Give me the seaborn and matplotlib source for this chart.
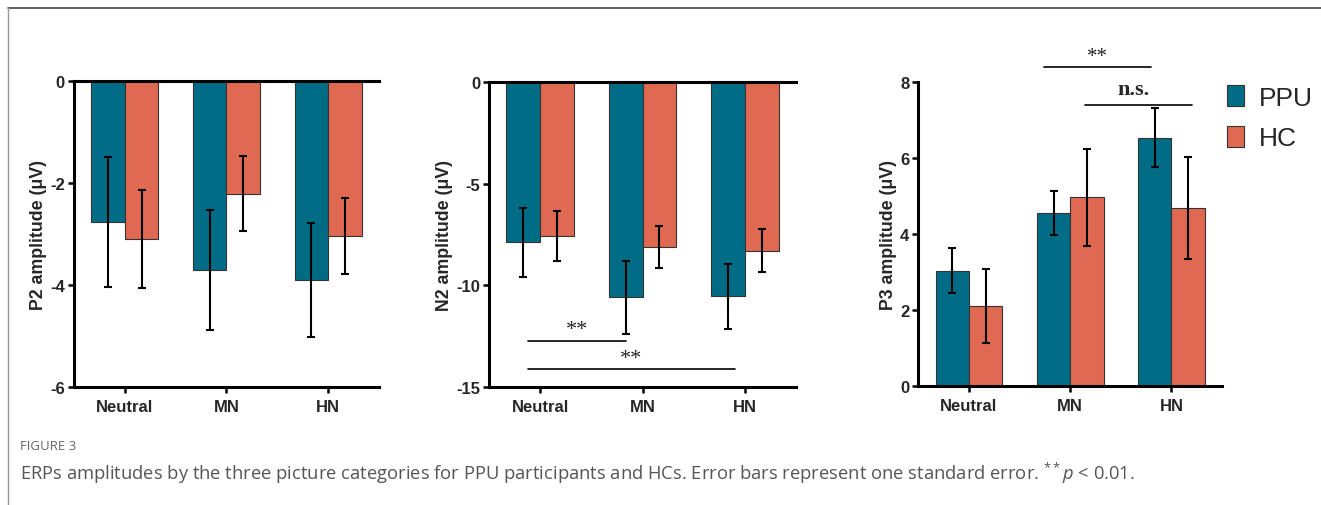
import matplotlib
matplotlib.use("Agg")
import matplotlib.pyplot as plt
from matplotlib.lines import Line2D
import seaborn as sns
import pandas as pd

# data (mean, standard error)
categories = ["Neutral", "MN", "HN"]
groups = ["PPU", "HC"]

p2_ppu = [-2.76, -3.71, -3.90]
p2_hc = [-3.10, -2.21, -3.04]
p2_ppu_se = [1.27, 1.18, 1.12]
p2_hc_se = [0.96, 0.74, 0.75]

n2_ppu = [-7.89, -10.60, -10.55]
n2_hc = [-7.57, -8.13, -8.30]
n2_ppu_se = [1.70, 1.81, 1.61]
n2_hc_se = [1.22, 1.03, 1.07]

p3_ppu = [3.03, 4.56, 6.53]
p3_hc = [2.10, 4.96, 4.68]
p3_ppu_se = [0.59, 0.58, 0.77]
p3_hc_se = [0.97, 1.27, 1.33]

# significance brackets: (x0, x1, y, label)
n2_sig = [(-0.12, 0.84, -12.73, "**"), (-0.12, 1.90, -14.13, "**")]
p3_sig = [(0.74, 1.80, 8.38, "**"), (1.15, 2.20, 7.39, "n.s.")]

colors = {"PPU": "#016C86", "HC": "#E06A51"}

sns.set_theme(style="ticks")
plt.rcParams.update({
    "font.family": ["Liberation Sans", "DejaVu Sans"],
    "font.weight": "bold",
    "axes.labelweight": "bold",
    "axes.unicode_minus": False,
    "mathtext.fontset": "custom",
    "mathtext.rm": "Open Sans:normal",
    "mathtext.it": "Open Sans:italic:normal",
})


def long_table(ppu, hc, ppu_se, hc_se):
    rows = []
    for g, vals, ses in [("PPU", ppu, ppu_se), ("HC", hc, hc_se)]:
        for c, v, s in zip(categories, vals, ses):
            rows.append({"category": c, "group": g, "value": v, "se": s})
    return pd.DataFrame(rows)


def draw_panel(ax, df, ylim, yticks, ylabel, top_spine):
    sns.barplot(data=df, x="category", y="value", hue="group",
                hue_order=groups, order=categories, palette=colors,
                saturation=1, errorbar=None, width=0.66,
                edgecolor="#333333", linewidth=0.8, legend=False, ax=ax)
    for cont, g in zip(ax.containers, groups):
        sub = df[df.group == g].set_index("category").loc[categories]
        xs = [p.get_x() + p.get_width() / 2 for p in cont.patches]
        ax.errorbar(xs, sub["value"], yerr=sub["se"], fmt="none",
                    ecolor="black", elinewidth=1.5, capsize=2.6,
                    capthick=1.5, zorder=5)
    ax.set_xlim(-0.5, 2.5)
    ax.set_ylim(*ylim)
    ax.set_yticks(yticks)
    ax.set_xlabel("")
    ax.set_ylabel(ylabel, fontsize=12.8, fontweight="bold", labelpad=2)
    for side in ["left", "bottom", "top"]:
        ax.spines[side].set_linewidth(2.2)
        ax.spines[side].set_color("black")
    ax.spines["right"].set_visible(False)
    ax.spines["top"].set_visible(top_spine)
    ax.tick_params(axis="both", length=4.5, width=1.8, color="black",
                   labelsize=12, pad=2)
    ax.tick_params(axis="x", pad=4)
    for t in ax.get_xticklabels() + ax.get_yticklabels():
        t.set_fontweight("bold")


def draw_sig(ax, sig, fs):
    for x0, x1, y, lab in sig:
        ax.plot([x0, x1], [y, y], color="black", lw=1.2, clip_on=False)
        span = ax.get_ylim()[1] - ax.get_ylim()[0]
        if lab == "n.s.":
            ax.text((x0 + x1) / 2 - 0.05, y + span * 0.02, lab,
                    family="Liberation Serif", fontweight="bold",
                    fontsize=16, ha="center", va="bottom", clip_on=False)
        else:
            ax.text((x0 + x1) / 2, y + span * 0.005, lab,
                    family="Liberation Serif", fontweight="normal",
                    fontsize=fs, ha="center", va="bottom", clip_on=False)


fig = plt.figure(figsize=(13.21, 5.06), dpi=100)
ax1 = fig.add_axes([0.0560, 0.2332, 0.2309, 0.6047])
ax2 = fig.add_axes([0.3702, 0.2338, 0.2324, 0.6016])
ax3 = fig.add_axes([0.6952, 0.2346, 0.2299, 0.6020])

draw_panel(ax1, long_table(p2_ppu, p2_hc, p2_ppu_se, p2_hc_se),
           (-6, 0), [0, -2, -4, -6], "P2 amplitude (μV)", True)
draw_panel(ax2, long_table(n2_ppu, n2_hc, n2_ppu_se, n2_hc_se),
           (-15, 0), [0, -5, -10, -15], "N2 amplitude (μV)", True)
draw_panel(ax3, long_table(p3_ppu, p3_hc, p3_ppu_se, p3_hc_se),
           (0, 8), [0, 2, 4, 6, 8], "P3 amplitude (μV)", False)

draw_sig(ax2, n2_sig, 16)
draw_sig(ax3, p3_sig, 15)

handles = [plt.Rectangle((0, 0), 1, 1, facecolor=colors[g],
                         edgecolor="#333333", linewidth=0.8) for g in groups]
fig.legend(handles, groups, loc="upper left",
           bbox_to_anchor=(0.929, 0.83), frameon=False,
           borderpad=0, borderaxespad=0,
           prop={"family": "Liberation Sans", "weight": "normal", "size": 19},
           handlelength=0.65, handleheight=0.85, handletextpad=0.55,
           labelspacing=0.6)

# frame lines of the page
fig.add_artist(Line2D([0.006, 1.0], [0.982, 0.982], color="#444444", lw=1.2))
fig.add_artist(Line2D([0.006, 0.006], [0.0, 0.982], color="#999999", lw=1.0))

fig.text(0.0155, 0.117, "FIGURE 3", family="Open Sans", fontweight="normal",
         fontsize=9.5, color="#666666", va="center")
fig.text(0.0155, 0.065,
         "ERPs amplitudes by the three picture categories for PPU participants "
         "and HCs. Error bars represent one standard error. "
         r"$^{**}\mathit{p}$ < 0.01.",
         family="Open Sans", fontweight="normal", fontsize=13.2,
         color="#555555", va="center")

fig.savefig("out.png", dpi=100)
